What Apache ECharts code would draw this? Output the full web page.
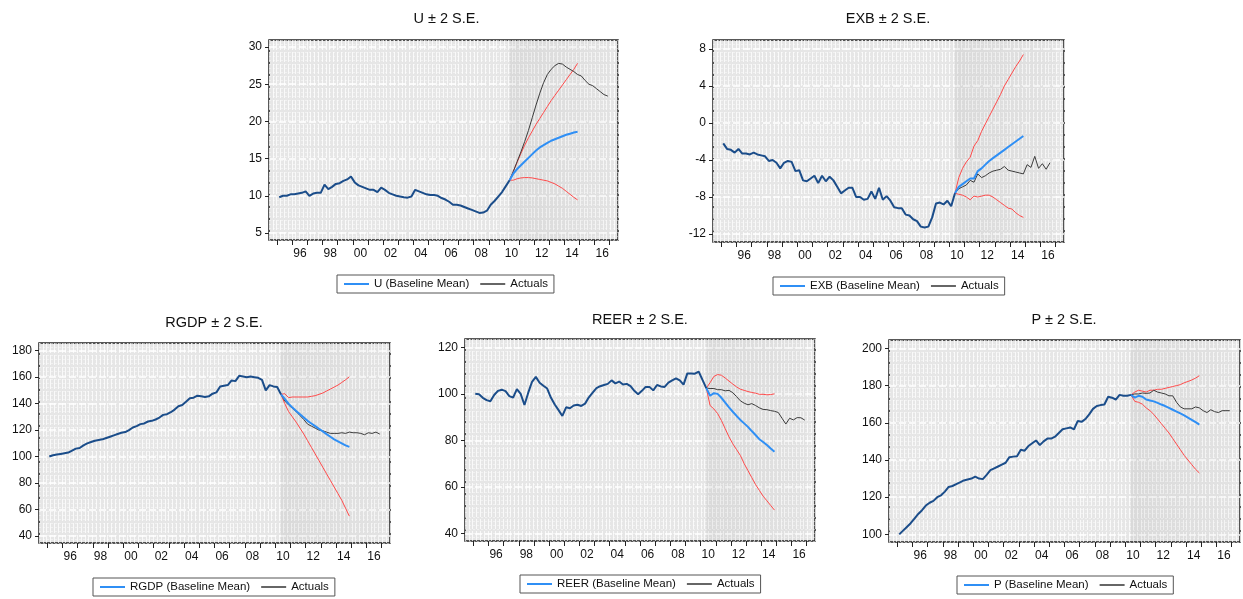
<!DOCTYPE html>
<html><head><meta charset="utf-8">
<script src="https://cdn.jsdelivr.net/npm/echarts@6/dist/echarts.min.js"></script>
<style>html,body{margin:0;padding:0;background:#fff}#c{width:1243px;height:599px}</style>
</head><body><div id="c"></div>
<script>
// ---------- DATA ----------
const startYear = 1995;          // first observation: 1995Q1 (quarterly)
const forecastStartIndex = 61;   // 2010Q2: last common obs, forecast band starts here
const xTickYears = [1995,1996,1997,1998,1999,2000,2001,2002,2003,2004,2005,2006,2007,2008,2009,2010,2011,2012,2013,2014,2015,2016,2017];
const xLabelYears = [1996,1998,2000,2002,2004,2006,2008,2010,2012,2014,2016];

// U
const uTicks = [5,10,15,20,25,30];
const uActual = [9.8,10.0,10.0,10.2, 10.2,10.3,10.4,10.6, 10.0,10.3,10.4,10.4, 11.5,10.9,11.2,11.6,
  11.7,12.0,12.2,12.6, 11.8,11.4,11.2,11.0, 10.8,10.8,10.5,11.1, 10.8,10.4,10.2,10.0,
  9.9,9.8,9.75,9.9, 10.8,10.6,10.4,10.2, 10.1,10.1,10.0,9.7, 9.5,9.2,8.8,8.8,
  8.7,8.5,8.3,8.1, 7.9,7.7,7.75,8.0, 8.8,9.3,9.9,10.5, 11.3,12.1,
  13.3,14.6,15.9,17.3,18.8,20.5,22.2,23.8,25.2,26.3,27.0,27.5,27.8,27.7,27.3,27.0,26.7,26.3,26.1,25.5,25.0,24.8,24.4,24.0,23.6,23.4];
const uBaseline = [12.1,13.0,13.6,14.1,14.6,15.1,15.6,16.1,16.5,16.8,17.1,17.4,17.6,17.8,18.0,18.2,18.35,18.5,18.6];
const uUpper = [12.1,13.3,14.5,15.7,16.8,17.8,18.7,19.6,20.4,21.2,22.0,22.8,23.5,24.2,24.9,25.6,26.3,27.0,27.8];
const uLower = [12.1,12.1,12.3,12.4,12.45,12.45,12.4,12.3,12.2,12.1,12.0,11.8,11.6,11.3,11.0,10.6,10.2,9.8,9.45];

// EXB
const exbTicks = [-12,-8,-4,0,4,8];
const exbActual = [-2.2,-2.8,-2.9,-3.2, -2.8,-3.3,-3.3,-3.4, -3.2,-3.4,-3.5,-3.6, -4.1,-4.0,-4.3,-4.9,
  -4.3,-4.1,-4.2,-5.2, -5.1,-6.2,-6.3,-6.0, -5.7,-6.5,-5.7,-6.3, -5.8,-6.2,-6.9,-7.6,
  -7.3,-7.0,-7.0,-8.0, -8.0,-8.3,-8.2,-7.4, -8.2,-7.0,-8.3,-7.9, -8.4,-9.1,-9.2,-9.2,
  -9.9,-10.0,-10.4,-10.6, -11.2,-11.3,-11.2,-10.2, -8.7,-8.6,-8.8,-8.4, -9.0,-7.6,
  -7.1,-6.9,-6.7,-6.2,-6.4,-5.5,-5.9,-5.7,-5.4,-5.2,-5.1,-5.0,-4.7,-5.1,-5.2,-5.3,-5.4,-5.5,-4.5,-4.8,-3.6,-4.9,-4.4,-5.0,-4.3];
const exbBaseline = [-7.6,-6.9,-6.6,-6.3,-6.0,-6.0,-5.2,-4.9,-4.5,-4.1,-3.8,-3.5,-3.2,-2.9,-2.6,-2.3,-2.0,-1.7,-1.4];
const exbUpper = [-7.6,-5.9,-4.9,-4.2,-3.7,-2.5,-1.9,-0.9,-0.1,0.7,1.5,2.3,3.1,4.0,4.7,5.4,6.1,6.7,7.4];
const exbLower = [-7.6,-7.7,-7.8,-8.0,-8.3,-7.9,-8.0,-7.9,-7.8,-7.8,-8.0,-8.3,-8.6,-8.9,-9.2,-9.3,-9.7,-10.0,-10.2];

// RGDP
const rgdpTicks = [40,60,80,100,120,140,160,180];
const rgdpActual = [100,101,101.5,102, 102.5,103,104.5,106, 106.5,108.5,110,111, 112,112.5,113,114,
  115,116,117,118, 118.5,120,122,123, 124.5,125,126.5,127, 128,129.5,131.5,132,
  133.5,135.5,138,139, 141.5,144,144.5,146, 145.5,145,145.5,147.5, 148.5,153,153.5,154,
  157.5,157,161,160.5, 160,160.5,160,159.5, 158,150,154,153, 152.5,147,
  142,139,136.5,134,131,128,124.5,123,121.5,120,119.5,118.5,117.5,117.5,117.5,118,117.5,118.5,118,118,117.5,116.5,118,117.5,118.5,117];
const rgdpBaseline = [147,143.5,140,137,134.5,132,129.5,127,125,123,121,119,117,115,113,111.5,110,108.5,107.3];
const rgdpUpper = [147,147.5,144.5,145,145,145,145,145,145.5,146,147,148,149.5,151,152.5,154,156,158,160.3];
const rgdpLower = [147,140,134,130,126,121.5,117,112,107,102,97,92,87,82,77,72,67,61,55];

// REER
const reerTicks = [40,60,80,100,120];
const reerActual = [100,99.8,98.3,97.3, 96.8,99.5,101.3,101.8, 101.2,99.0,98.4,102.0, 100.0,95.2,100.5,105.2,
  107.3,104.8,103.5,102.3, 98.3,95.4,93.0,90.5, 94.2,93.8,95.0,95.3, 94.8,95.8,98.5,100.5,
  102.5,103.3,103.8,104.3, 105.8,104.5,105.3,104.0, 104.3,103.3,101.3,99.8, 101.3,103.0,103.0,101.5,
  103.8,103.2,103.0,104.8, 105.8,106.7,105.8,104.0, 108.8,108.8,108.7,109.6, 106.0,102.5,
  102.3,102.3,101.8,101.8,101.3,101.5,100.5,98.8,97.0,96.0,95.3,95.8,95.0,94.0,93.3,93.2,92.8,92.5,92.0,89.5,87.0,89.5,88.8,89.8,89.7,88.7];
const reerBaseline = [102.5,99.2,100.3,100.0,98.3,96.2,94.2,92.3,90.5,88.8,87.3,85.8,84.0,82.3,80.5,79.3,78.0,76.5,75.1];
const reerUpper = [102.5,104.8,107.5,108.3,108.0,106.8,105.5,104.2,103.0,102.0,101.5,101.0,100.6,100.3,99.8,99.8,99.6,99.7,100.0];
const reerLower = [102.5,95,93.5,91.5,88.5,85,81.5,78.5,76,73.5,70,67,64,61,58.5,56,54,52,50];

// P
const pTicks = [100,120,140,160,180,200];
const pActual = [100,102,104,106, 108.5,111,113,115.5, 117,118,120,121, 123,125.5,126,127,
  128,129,129.5,130, 131,130,129.7,132, 134.5,135.5,136.5,137.5, 138.5,141.5,141.8,142,
  145.5,145,147.5,149, 150.5,148,150,151.5, 151.5,152.5,154.5,156.5, 157,157.5,156.5,161,
  160.5,162,164.5,167.5, 169,169.5,169.8,174, 173.5,172.5,175,174.5, 174.5,175,
  175.5,175.5,176,175.8,176,177.5,176.5,176,175.5,174.5,174.5,171,168.5,167.5,167.5,167.5,168.5,168,166.5,165.5,167,166,165.5,166.5,166.5,166.5];
const pBaseline = [175,173.5,174.5,174,172.5,172,171.5,170.7,169.8,169,168,167,166,165,164,162.8,161.6,160.3,159];
const pUpper = [175,176.5,177.5,177,176.5,177.5,177.5,178,178,178.5,179,179.5,180,180.5,181.5,182.2,183,184,185.3];
const pLower = [175,171.5,171,170,168,166.5,164.5,162,159.5,157,154.5,151.5,148.5,145.5,142.5,140,137.5,135,133];

// ---------- CHART ----------
const FONT = '"Liberation Sans", Arial, Helvetica, sans-serif';
const X_MIN = 1994.45, X_MAX = 2017.55;
const qx = k => startYear + (k + 0.5) / 4;

const panels = [
  {name:'U', actual:uActual, base:uBaseline, up:uUpper, lo:uLower, ticks:uTicks, yMin:4.06, yMax:30.94,
   grid:{left:269, top:40, width:349, height:200}, title:{x:441.5, y:6}, legend:{left:337, top:275}},
  {name:'EXB', actual:exbActual, base:exbBaseline, up:exbUpper, lo:exbLower, ticks:exbTicks, yMin:-12.86, yMax:8.97,
   grid:{left:713, top:40, width:351, height:202}, title:{x:883, y:6}, legend:{left:773, top:277}},
  {name:'RGDP', actual:rgdpActual, base:rgdpBaseline, up:rgdpUpper, lo:rgdpLower, ticks:rgdpTicks, yMin:34.7, yMax:185.8,
   grid:{left:39, top:343, width:351, height:200}, title:{x:209, y:310}, legend:{left:93, top:578}},
  {name:'REER', actual:reerActual, base:reerBaseline, up:reerUpper, lo:reerLower, ticks:reerTicks, yMin:36.7, yMax:123.6,
   grid:{left:465, top:339, width:350, height:202}, title:{x:635, y:307}, legend:{left:520, top:575}},
  {name:'P', actual:pActual, base:pBaseline, up:pUpper, lo:pLower, ticks:pTicks, yMin:95.9, yMax:204.5,
   grid:{left:889, top:340, width:351, height:202}, title:{x:1059, y:307}, legend:{left:957, top:576}}
];

const option = {animation:false, backgroundColor:'#fff', textStyle:{fontFamily:FONT},
  title:[], legend:[], grid:[], xAxis:[], yAxis:[], series:[]};

panels.forEach((p, i) => {
  option.grid.push(Object.assign({show:true, backgroundColor:'#e6e6e6', borderColor:'#222', borderWidth:1.5}, p.grid));
  option.title.push({text: p.name + ' \u00B1 2 S.E.', left:p.title.x, top:p.title.y, textAlign:'center',
    textStyle:{fontFamily:FONT, fontSize:14.5, fontWeight:'normal', color:'#111'}});
  const baseName = p.name + ' (Baseline Mean)';
  option.legend.push({left:p.legend.left, top:p.legend.top,
    data:[baseName, {name:'Actuals', lineStyle:{color:'#666'}}], selectedMode:false,
    borderColor:'#555', borderWidth:1, borderRadius:0, padding:[3,6,3,6], itemGap:10, itemWidth:25, itemHeight:12,
    itemStyle:{opacity:0},
    textStyle:{fontFamily:FONT, fontSize:11.5, color:'#111'}});
  // main x axis (index 2i)
  option.xAxis.push({type:'value', gridIndex:i, min:X_MIN, max:X_MAX, position:'bottom',
    axisLine:{show:false, onZero:false}, splitLine:{show:false},
    axisTick:{show:true, inside:false, length:5, customValues:xTickYears, lineStyle:{color:'#222', width:1}},
    axisLabel:{show:true, margin:8, customValues:xLabelYears.map(y => y + 0.5), fontFamily:FONT, fontSize:12, color:'#111',
      formatter: v => String(Math.floor(v) % 100).padStart(2,'0')}});
  // texture x axis (index 2i+1)
  option.xAxis.push({type:'value', gridIndex:i, min:0, max:92, interval:1, position:'bottom',
    axisLine:{show:false, onZero:false}, axisTick:{show:false}, axisLabel:{show:false},
    splitLine:{show:true, lineStyle:{color:'rgba(255,255,255,0.75)', width:1, type:[10,2]}}});
  // main y axis
  option.yAxis.push({type:'value', gridIndex:i, min:p.yMin, max:p.yMax, position:'left',
    axisLine:{show:false, onZero:false},
    axisTick:{show:true, inside:false, length:4, customValues:p.ticks, lineStyle:{color:'#222', width:1}},
    axisLabel:{show:true, margin:7, customValues:p.ticks, fontFamily:FONT, fontSize:12, color:'#111'},
    splitLine:{show:true, lineStyle:{color:'#ffffff', width:1.5, type:[7,3]}}});
  // texture y axis
  option.yAxis.push({type:'value', gridIndex:i, min:0, max:50, interval:1, position:'right',
    axisLine:{show:false, onZero:false}, axisTick:{show:false}, axisLabel:{show:false},
    splitLine:{show:true, lineStyle:{color:'rgba(255,255,255,0.45)', width:1, type:[2,2]}}});

  const xi = 2*i, yi = 2*i;
  const fc = arr => arr.map((v, j) => [qx(forecastStartIndex + j), v]);
  const hist = p.actual.slice(0, forecastStartIndex + 1).map((v, k) => [qx(k), v]);
  const act = p.actual.slice(forecastStartIndex).map((v, j) => [qx(forecastStartIndex + j), v]);
  const common = {type:'line', xAxisIndex:xi, yAxisIndex:yi, symbol:'none', smooth:false, silent:true};
  option.series.push(Object.assign({}, common, {name:p.name + ' -2SE', data:fc(p.lo),
    lineStyle:{color:'#ff4a4a', width:1}, itemStyle:{color:'#ff4a4a'},
    markArea:{silent:true, itemStyle:{color:{type:'linear', x:0, y:0, x2:1, y2:0,
      colorStops:[{offset:0, color:'rgba(0,0,0,0.055)'},{offset:1, color:'rgba(0,0,0,0.015)'}]}},
      data:[[{xAxis:qx(forecastStartIndex)}, {xAxis:xTickYears[xTickYears.length-1]}]]}}));
  option.series.push(Object.assign({}, common, {name:p.name + ' +2SE', data:fc(p.up),
    lineStyle:{color:'#ff4a4a', width:1}, itemStyle:{color:'#ff4a4a'}}));
  option.series.push(Object.assign({}, common, {name:'Actuals', data:act,
    lineStyle:{color:'#3c3c3c', width:1}, itemStyle:{color:'#3c3c3c'}}));
  option.series.push(Object.assign({}, common, {name:baseName, data:fc(p.base),
    lineStyle:{color:'#2f8ff5', width:2}, itemStyle:{color:'#2f8ff5'}}));
  option.series.push(Object.assign({}, common, {name:p.name + ' history', data:hist,
    lineStyle:{color:'#1b4d8a', width:2}, itemStyle:{color:'#1b4d8a'}}));
});

const chart = echarts.init(document.getElementById('c'), null, {renderer:'canvas'});
chart.setOption(option);
</script></body></html>
